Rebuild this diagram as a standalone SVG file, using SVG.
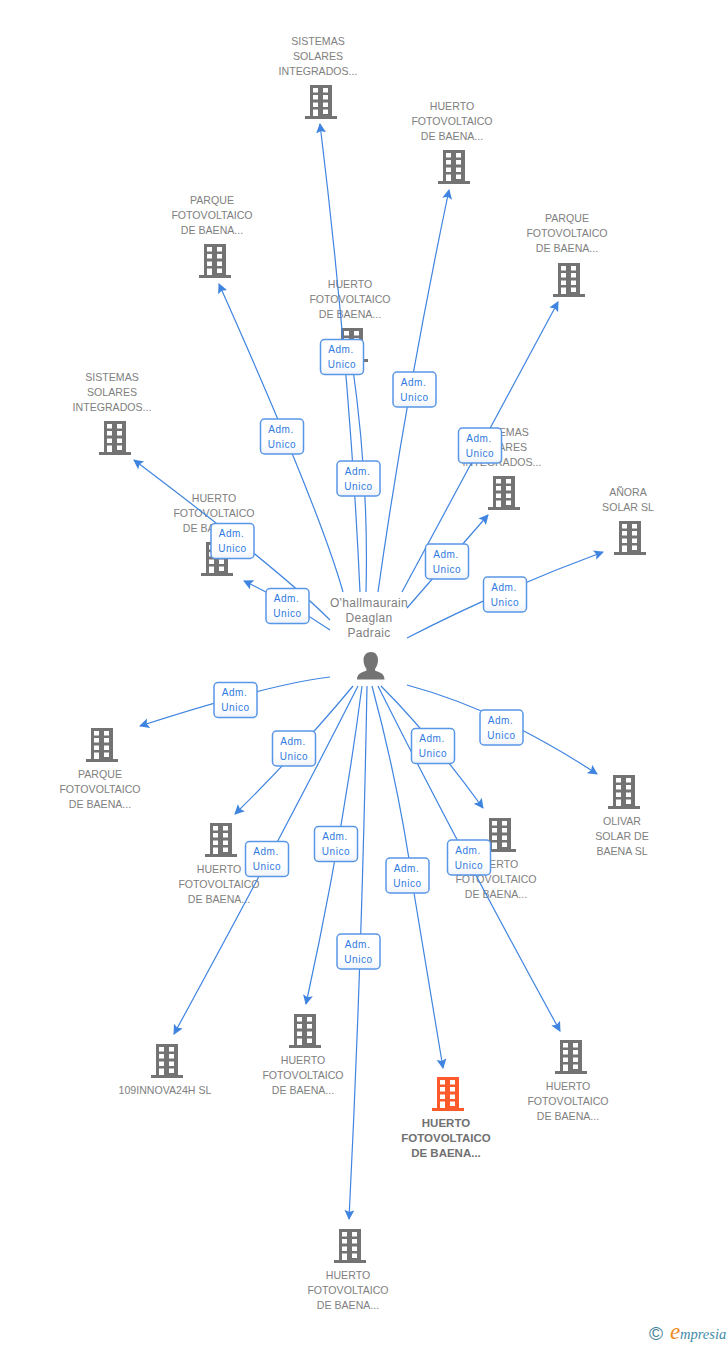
<svg xmlns="http://www.w3.org/2000/svg" width="728" height="1345" viewBox="0 0 728 1345">
<style>
.n{font:10.6px "Liberation Sans",Arial,sans-serif;fill:#808080;text-anchor:middle}
.b{font:bold 11.500px "Liberation Sans",Arial,sans-serif;fill:#707070;text-anchor:middle}
.p{font:12px "Liberation Sans",Arial,sans-serif;fill:#808080;text-anchor:middle;letter-spacing:.35px}
.c{fill:none;stroke:#3f84e0;stroke-width:1.2;marker-end:url(#a)}
.l rect{fill:url(#g);stroke:#5a96e8;stroke-width:1.5}
.l text{font:10px "Liberation Sans",Arial,sans-serif;fill:#2f7ae0;text-anchor:middle;letter-spacing:.6px}
</style>
<defs>
<linearGradient id="g" x1="0" y1="0" x2="0" y2="1"><stop offset="0" stop-color="#fff"/><stop offset=".7" stop-color="#fff"/><stop offset="1" stop-color="#eef3fa"/></linearGradient>
<marker id="a" markerUnits="userSpaceOnUse" markerWidth="12" markerHeight="12" refX="9" refY="5" orient="auto"><path d="M0 0L10 5L0 10L2 5Z" fill="#3f84e0"/></marker>
<path id="bd" fill-rule="evenodd" d="M5 0H27V31H32V34H0V31H5ZM8 3V7.500H13V3ZM18 3V7.500H23V3ZM8 10V14.500H13V10ZM18 10V14.500H23V10ZM8 17.500V22H13V17.500ZM18 17.500V22H23V17.500ZM8 24.500V31H13V24.500ZM18 24.500V29H23V24.500Z"/>
</defs>
<rect width="728" height="1345" fill="#fff"/>
<g id="node-1" fill="#737373"><text class="n" x="318" y="45">SISTEMAS</text><text class="n" x="318" y="60">SOLARES</text><text class="n" x="318" y="75">INTEGRADOS...</text><use href="#bd" x="305" y="85"/></g>
<g id="node-2" fill="#737373"><text class="n" x="452" y="110">HUERTO</text><text class="n" x="452" y="125">FOTOVOLTAICO</text><text class="n" x="452" y="140">DE BAENA...</text><use href="#bd" x="438" y="150"/></g>
<g id="node-3" fill="#737373"><text class="n" x="567" y="222">PARQUE</text><text class="n" x="567" y="237">FOTOVOLTAICO</text><text class="n" x="567" y="252">DE BAENA...</text><use href="#bd" x="553" y="263"/></g>
<g id="node-4" fill="#737373"><text class="n" x="212" y="204">PARQUE</text><text class="n" x="212" y="219">FOTOVOLTAICO</text><text class="n" x="212" y="234">DE BAENA...</text><use href="#bd" x="199" y="244"/></g>
<g id="node-5" fill="#737373"><text class="n" x="350" y="288">HUERTO</text><text class="n" x="350" y="303">FOTOVOLTAICO</text><text class="n" x="350" y="318">DE BAENA...</text><use href="#bd" x="336" y="328"/></g>
<g id="node-6" fill="#737373"><text class="n" x="112" y="381">SISTEMAS</text><text class="n" x="112" y="396">SOLARES</text><text class="n" x="112" y="411">INTEGRADOS...</text><use href="#bd" x="99" y="421"/></g>
<g id="node-7" fill="#737373"><text class="n" x="214" y="502">HUERTO</text><text class="n" x="214" y="517">FOTOVOLTAICO</text><text class="n" x="214" y="532">DE BAENA...</text><use href="#bd" x="201" y="542"/></g>
<g id="node-8" fill="#737373"><text class="n" x="502" y="436">SISTEMAS</text><text class="n" x="502" y="451">SOLARES</text><text class="n" x="502" y="466">INTEGRADOS...</text><use href="#bd" x="488" y="476"/></g>
<g id="node-9" fill="#737373"><text class="n" x="628" y="496">AÑORA</text><text class="n" x="628" y="511">SOLAR SL</text><use href="#bd" x="614" y="521"/></g>
<g id="node-10" fill="#737373"><use href="#bd" x="86" y="728"/><text class="n" x="100" y="778">PARQUE</text><text class="n" x="100" y="793">FOTOVOLTAICO</text><text class="n" x="100" y="808">DE BAENA...</text></g>
<g id="node-11" fill="#737373"><use href="#bd" x="608" y="775"/><text class="n" x="622" y="825">OLIVAR</text><text class="n" x="622" y="840">SOLAR DE</text><text class="n" x="622" y="855">BAENA SL</text></g>
<g id="node-12" fill="#737373"><use href="#bd" x="205" y="823"/><text class="n" x="219" y="873">HUERTO</text><text class="n" x="219" y="888">FOTOVOLTAICO</text><text class="n" x="219" y="903">DE BAENA...</text></g>
<g id="node-13" fill="#737373"><use href="#bd" x="484" y="818"/><text class="n" x="496" y="868">HUERTO</text><text class="n" x="496" y="883">FOTOVOLTAICO</text><text class="n" x="496" y="898">DE BAENA...</text></g>
<g id="node-14" fill="#737373"><use href="#bd" x="151" y="1044"/><text class="n" x="165" y="1094">109INNOVA24H SL</text></g>
<g id="node-15" fill="#737373"><use href="#bd" x="289" y="1014"/><text class="n" x="303" y="1064">HUERTO</text><text class="n" x="303" y="1079">FOTOVOLTAICO</text><text class="n" x="303" y="1094">DE BAENA...</text></g>
<g id="node-16" fill="#ff5a2c"><use href="#bd" x="432" y="1077"/><text class="b" x="446" y="1127">HUERTO</text><text class="b" x="446" y="1142">FOTOVOLTAICO</text><text class="b" x="446" y="1157">DE BAENA...</text></g>
<g id="node-17" fill="#737373"><use href="#bd" x="555" y="1040"/><text class="n" x="568" y="1090">HUERTO</text><text class="n" x="568" y="1105">FOTOVOLTAICO</text><text class="n" x="568" y="1120">DE BAENA...</text></g>
<g id="node-18" fill="#737373"><use href="#bd" x="334" y="1229"/><text class="n" x="348" y="1279">HUERTO</text><text class="n" x="348" y="1294">FOTOVOLTAICO</text><text class="n" x="348" y="1309">DE BAENA...</text></g>
<g id="person"><text class="p" x="369" y="607">O'hallmaurain</text><text class="p" x="369" y="622">Deaglan</text><text class="p" x="369" y="637">Padraic</text>
<path fill="#737373" d="M371 652C375.500 652 378 655.500 378 660C378 664 376.500 667 375 669V670.500C379 672.500 384.500 673 384.500 679.500H357C357 673 362.500 672.500 366.500 670.500V669C365 667 363.500 664 363.500 660C363.500 655.500 366.500 652 371 652Z"/></g>
<g id="connectors">
<path class="c" d="M360 592Q350 370 320 124"/>
<path class="c" d="M366 592Q369 480 352 362"/>
<path class="c" d="M378 592Q405 400 449 190"/>
<path class="c" d="M402 592L558 302"/>
<path class="c" d="M343 592Q320 510 219 284"/>
<path class="c" d="M330 620Q280 570 134 460"/>
<path class="c" d="M330 630Q290 603 244 581"/>
<path class="c" d="M407 608L488 515"/>
<path class="c" d="M407 638Q500 590 603 552"/>
<path class="c" d="M330 677Q270 684 140 726"/>
<path class="c" d="M407 685Q500 710 597 774"/>
<path class="c" d="M353 686Q300 750 235 814"/>
<path class="c" d="M381 686Q430 735 483 808"/>
<path class="c" d="M358 686Q280 840 174 1034"/>
<path class="c" d="M362 686Q342 840 306 1004"/>
<path class="c" d="M372 686Q400 790 414 893L443 1068"/>
<path class="c" d="M378 686Q450 830 560 1031"/>
<path class="c" d="M367 686Q362 960 349 1219"/>
</g>
<g id="labels" class="l">
<g transform="translate(342 357)"><rect x="-21.500" y="-17.500" width="43" height="35" rx="4"/><text x="-1" y="-4">Adm.</text><text y="11">Unico</text></g>
<g transform="translate(358.500 478.500)"><rect x="-21.500" y="-17.500" width="43" height="35" rx="4"/><text x="-1" y="-4">Adm.</text><text y="11">Unico</text></g>
<g transform="translate(414.500 389.500)"><rect x="-21.500" y="-17.500" width="43" height="35" rx="4"/><text x="-1" y="-4">Adm.</text><text y="11">Unico</text></g>
<g transform="translate(480 445.500)"><rect x="-21.500" y="-17.500" width="43" height="35" rx="4"/><text x="-1" y="-4">Adm.</text><text y="11">Unico</text></g>
<g transform="translate(282 436.500)"><rect x="-21.500" y="-17.500" width="43" height="35" rx="4"/><text x="-1" y="-4">Adm.</text><text y="11">Unico</text></g>
<g transform="translate(232.500 541)"><rect x="-21.500" y="-17.500" width="43" height="35" rx="4"/><text x="-1" y="-4">Adm.</text><text y="11">Unico</text></g>
<g transform="translate(287.500 606)"><rect x="-21.500" y="-17.500" width="43" height="35" rx="4"/><text x="-1" y="-4">Adm.</text><text y="11">Unico</text></g>
<g transform="translate(447 561.500)"><rect x="-21.500" y="-17.500" width="43" height="35" rx="4"/><text x="-1" y="-4">Adm.</text><text y="11">Unico</text></g>
<g transform="translate(505 594.500)"><rect x="-21.500" y="-17.500" width="43" height="35" rx="4"/><text x="-1" y="-4">Adm.</text><text y="11">Unico</text></g>
<g transform="translate(235.500 700)"><rect x="-21.500" y="-17.500" width="43" height="35" rx="4"/><text x="-1" y="-4">Adm.</text><text y="11">Unico</text></g>
<g transform="translate(501.500 727.500)"><rect x="-21.500" y="-17.500" width="43" height="35" rx="4"/><text x="-1" y="-4">Adm.</text><text y="11">Unico</text></g>
<g transform="translate(294 748.500)"><rect x="-21.500" y="-17.500" width="43" height="35" rx="4"/><text x="-1" y="-4">Adm.</text><text y="11">Unico</text></g>
<g transform="translate(433 746)"><rect x="-21.500" y="-17.500" width="43" height="35" rx="4"/><text x="-1" y="-4">Adm.</text><text y="11">Unico</text></g>
<g transform="translate(267 859)"><rect x="-21.500" y="-17.500" width="43" height="35" rx="4"/><text x="-1" y="-4">Adm.</text><text y="11">Unico</text></g>
<g transform="translate(336 844)"><rect x="-21.500" y="-17.500" width="43" height="35" rx="4"/><text x="-1" y="-4">Adm.</text><text y="11">Unico</text></g>
<g transform="translate(407.500 875.500)"><rect x="-21.500" y="-17.500" width="43" height="35" rx="4"/><text x="-1" y="-4">Adm.</text><text y="11">Unico</text></g>
<g transform="translate(469 857.500)"><rect x="-21.500" y="-17.500" width="43" height="35" rx="4"/><text x="-1" y="-4">Adm.</text><text y="11">Unico</text></g>
<g transform="translate(358.500 951.500)"><rect x="-21.500" y="-17.500" width="43" height="35" rx="4"/><text x="-1" y="-4">Adm.</text><text y="11">Unico</text></g>
</g>
<g id="logo"><text x="649" y="1340" font-family="'Liberation Sans',sans-serif" font-size="19" fill="#44839c">©</text><text x="670" y="1339" font-family="'Liberation Serif',serif" font-style="italic" font-size="23" fill="#f08a1c">e</text><text x="680" y="1339" font-family="'Liberation Serif',serif" font-style="italic" font-size="14.500" fill="#3f8aa5">mpresia</text></g>
</svg>
